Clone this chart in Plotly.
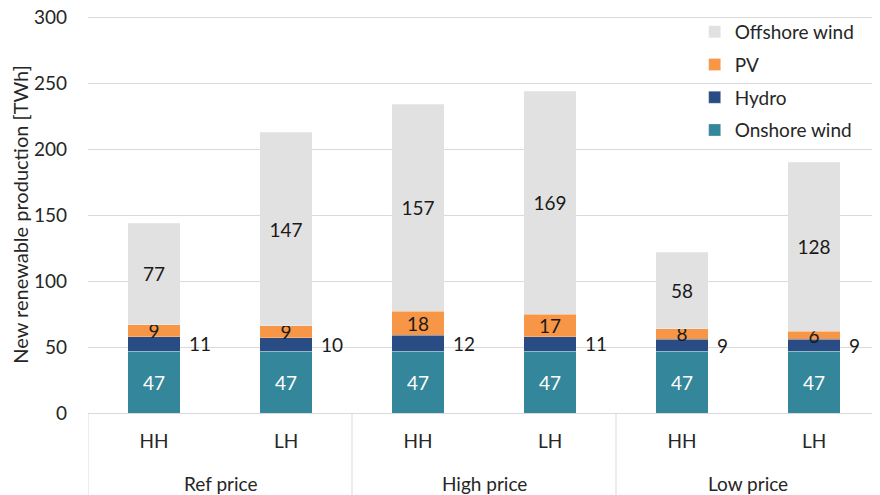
import plotly.graph_objects as go

groups = ["Ref price", "Ref price", "High price", "High price", "Low price", "Low price"]
scenarios = ["HH", "LH", "HH", "LH", "HH", "LH"]
onshore = [47, 47, 47, 47, 47, 47]
hydro = [11, 10, 12, 11, 9, 9]
pv = [9, 9, 18, 17, 8, 6]
offshore = [77, 147, 157, 169, 58, 128]
y_ticks = [0, 50, 100, 150, 200, 250, 300]

FONT = "Lato"
FS = 19
W, H = 872, 487  # page body has an 8px margin
ML, MR, MT, MB = 80, 0, 8, 82
PLOT_H = H - MT - MB
xpos = list(range(len(scenarios)))

fig = go.Figure()
series = [
    ("Onshore wind", onshore, "#34869B", "white", True, 4),
    ("Hydro", hydro, "#294C84", "#1a1a1a", False, 3),
    ("PV", pv, "#F79646", "#1a1a1a", True, 2),
    ("Offshore wind", offshore, "#E1E1E1", "#1a1a1a", True, 1),
]
for name, vals, color, tcolor, show, rank in series:
    fig.add_trace(go.Bar(
        name=name, x=xpos, y=vals, legendgroup=name, legendrank=rank,
        marker=dict(color=color, line=dict(color="rgba(255,255,255,0.5)", width=0.5)),
        text=[str(v) for v in vals] if show else None,
        textposition="inside" if show else "none",
        insidetextanchor="middle", textangle=0,
        textfont=dict(color=tcolor, size=FS, family=FONT),
        width=0.4,
    ))

# hydro labels to the right of the bars
for i, (o, h) in enumerate(zip(onshore, hydro)):
    fig.add_annotation(x=xpos[i], y=o + h / 2, xref="x", yref="y", text=str(h),
                       showarrow=False, xanchor="left", xshift=33,
                       font=dict(size=FS, color="#1a1a1a", family=FONT))

# group labels and dividers
unique_groups = []
for g in groups:
    if g not in unique_groups:
        unique_groups.append(g)
bounds = [-0.5]
for g in unique_groups:
    idx = [i for i, gg in enumerate(groups) if gg == g]
    fig.add_annotation(x=sum(idx) / len(idx), y=-70 / PLOT_H, xref="x", yref="paper",
                       text=g, showarrow=False, yanchor="middle",
                       font=dict(size=FS, color="#262626", family=FONT))
    bounds.append(max(idx) + 0.5)
for b in bounds:
    fig.add_shape(type="line", xref="x", yref="paper", x0=b, x1=b, y0=0, y1=-MB / PLOT_H,
                  line=dict(color="#D9D9D9", width=1))

fig.update_layout(
    width=W, height=H,
    barmode="stack",
    plot_bgcolor="white", paper_bgcolor="white",
    margin=dict(l=ML, r=MR, t=MT, b=MB),
    font=dict(family=FONT, size=FS, color="#262626"),
    uniformtext=dict(minsize=FS, mode="show"),
    showlegend=True,
    legend=dict(x=0.766, y=1 + 3 / PLOT_H, xanchor="left", yanchor="top",
                traceorder="grouped", bgcolor="rgba(0,0,0,0)",
                font=dict(size=FS, family=FONT), itemwidth=30, tracegroupgap=5),
    xaxis=dict(range=[-0.5, 5.5], tickvals=xpos, ticktext=scenarios, showline=True,
               linecolor="#D9D9D9", linewidth=1, ticks="", showgrid=False, zeroline=False,
               tickfont=dict(size=FS), ticklabelstandoff=11, automargin=False),
    yaxis=dict(range=[0, 301], tickvals=y_ticks,
               showgrid=True, gridcolor="#D9D9D9",
               zeroline=False, tickfont=dict(size=FS), ticks="", ticklabelstandoff=20,
               ticklabeloverflow="allow", automargin=False,
               title=dict(text="New renewable production [TWh]", font=dict(size=20), standoff=6)),
)

fig.write_html("out.html")
